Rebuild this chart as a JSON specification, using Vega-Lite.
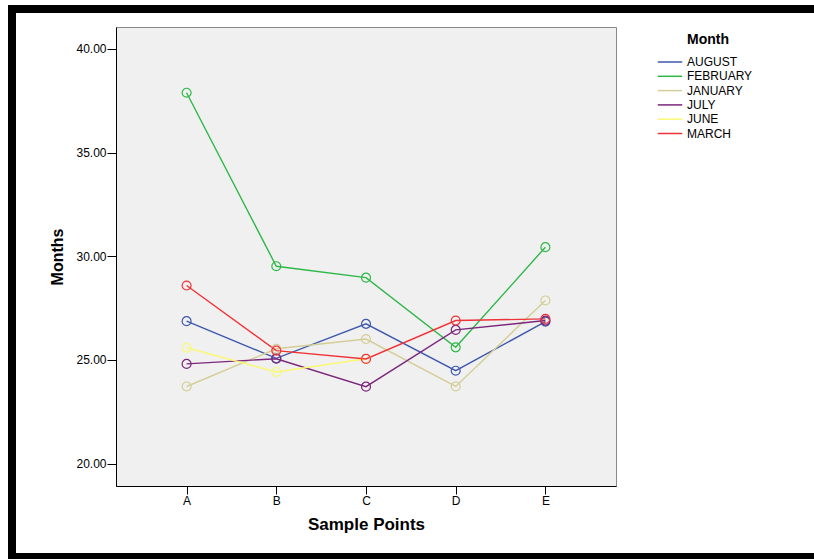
{
  "$schema": "https://vega.github.io/schema/vega-lite/v6.json",
  "background": "white",
  "autosize": {"type": "none"},
  "padding": {"left": 116, "top": 27, "right": 198, "bottom": 73},
  "width": 500,
  "height": 459,
  "config": {"font": "Liberation Sans"},
  "view": {"fill": "#f0f0f0", "stroke": "#888888", "strokeWidth": 1},
  "data": {
    "values": [
      {"Month": "AUGUST", "Sample": "A", "Value": 26.87},
      {"Month": "AUGUST", "Sample": "B", "Value": 25.08},
      {"Month": "AUGUST", "Sample": "C", "Value": 26.74},
      {"Month": "AUGUST", "Sample": "D", "Value": 24.48},
      {"Month": "AUGUST", "Sample": "E", "Value": 26.85},
      {"Month": "FEBRUARY", "Sample": "A", "Value": 37.89},
      {"Month": "FEBRUARY", "Sample": "B", "Value": 29.52},
      {"Month": "FEBRUARY", "Sample": "C", "Value": 28.97},
      {"Month": "FEBRUARY", "Sample": "D", "Value": 25.61},
      {"Month": "FEBRUARY", "Sample": "E", "Value": 30.44},
      {"Month": "JANUARY", "Sample": "A", "Value": 23.72},
      {"Month": "JANUARY", "Sample": "B", "Value": 25.54},
      {"Month": "JANUARY", "Sample": "C", "Value": 26.01},
      {"Month": "JANUARY", "Sample": "D", "Value": 23.72},
      {"Month": "JANUARY", "Sample": "E", "Value": 27.87},
      {"Month": "JULY", "Sample": "A", "Value": 24.81},
      {"Month": "JULY", "Sample": "B", "Value": 25.06},
      {"Month": "JULY", "Sample": "C", "Value": 23.71},
      {"Month": "JULY", "Sample": "D", "Value": 26.45},
      {"Month": "JULY", "Sample": "E", "Value": 26.9},
      {"Month": "JUNE", "Sample": "A", "Value": 25.59},
      {"Month": "JUNE", "Sample": "B", "Value": 24.42},
      {"Month": "JUNE", "Sample": "C", "Value": 25.06},
      {"Month": "MARCH", "Sample": "A", "Value": 28.59},
      {"Month": "MARCH", "Sample": "B", "Value": 25.45},
      {"Month": "MARCH", "Sample": "C", "Value": 25.05},
      {"Month": "MARCH", "Sample": "D", "Value": 26.9},
      {"Month": "MARCH", "Sample": "E", "Value": 26.98}
    ]
  },
  "encoding": {
    "x": {
      "field": "Sample",
      "type": "ordinal",
      "title": "Sample Points",
      "scale": {"type": "point", "padding": 0.787},
      "axis": {
        "labelAngle": 0,
        "grid": false,
        "domainColor": "black",
        "tickColor": "black",
        "tickSize": 8,
        "labelPadding": 1,
        "labelFont": "Liberation Sans",
        "labelFontSize": 12,
        "labelColor": "black",
        "titleFont": "Liberation Sans",
        "titleFontSize": 17,
        "titleFontWeight": "bold",
        "titleColor": "black",
        "titlePadding": 10
      }
    },
    "y": {
      "field": "Value",
      "type": "quantitative",
      "title": "Months",
      "scale": {"domain": [18.92, 41.06], "nice": false, "zero": false},
      "axis": {
        "values": [20, 25, 30, 35, 40],
        "format": ".2f",
        "grid": false,
        "domainColor": "black",
        "tickColor": "black",
        "tickSize": 9,
        "labelPadding": 1,
        "labelFont": "Liberation Sans",
        "labelFontSize": 12,
        "labelColor": "black",
        "titleFont": "Liberation Sans",
        "titleFontSize": 16,
        "titleFontWeight": "bold",
        "titleColor": "black",
        "titlePadding": 10
      }
    }
  },
  "layer": [
    {
      "mark": {"type": "line", "strokeWidth": 1.4},
      "encoding": {
        "color": {
          "field": "Month",
          "type": "nominal",
          "scale": {
            "domain": ["AUGUST", "FEBRUARY", "JANUARY", "JULY", "JUNE", "MARCH"],
            "range": ["#3E58AC", "#2EB848", "#D3CE97", "#7C277C", "#FBF873", "#EF3338"]
          },
          "legend": {
            "orient": "none",
            "legendX": 547,
            "legendY": 6,
            "padding": 0,
            "title": "Month",
            "titleFont": "Liberation Sans",
            "titleFontSize": 14,
            "titleFontWeight": "bold",
            "titleColor": "black",
            "titleAnchor": "middle",
            "titlePadding": 8,
            "labelFont": "Liberation Sans",
            "labelFontSize": 12,
            "labelColor": "black",
            "labelOffset": 10,
            "symbolType": "M-2,0H2",
            "symbolSize": 150,
            "symbolStrokeWidth": 1.5,
            "rowPadding": 1.3
          }
        }
      }
    },
    {
      "mark": {"type": "point", "filled": false, "size": 80, "strokeWidth": 1.2, "opacity": 1},
      "encoding": {
        "color": {"field": "Month", "type": "nominal"}
      }
    },
    {
      "mark": {"type": "point", "filled": false, "size": 1, "opacity": 0},
      "encoding": {
        "stroke": {
          "field": "Value",
          "type": "quantitative",
          "scale": {"range": ["rgba(0,0,0,0)", "rgba(0,0,0,0)"]},
          "legend": {
            "orient": "none",
            "direction": "vertical",
            "legendX": -104,
            "legendY": -18,
            "padding": 0,
            "title": null,
            "gradientLength": 548,
            "gradientThickness": 798,
            "gradientStrokeColor": "black",
            "gradientStrokeWidth": 8,
            "labelExpr": "''",
            "labelFontSize": 1,
            "zindex": 1
          }
        }
      }
    },
    {
      "mark": {"type": "point", "filled": true, "size": 1, "opacity": 0},
      "encoding": {
        "fill": {
          "field": "Value",
          "type": "quantitative",
          "scale": {"range": ["white", "white"]},
          "legend": {
            "orient": "none",
            "direction": "vertical",
            "legendX": 689,
            "legendY": -14,
            "padding": 0,
            "title": null,
            "gradientLength": 540,
            "gradientThickness": 10,
            "gradientStrokeWidth": 0,
            "labelExpr": "''",
            "labelFontSize": 1,
            "zindex": 2
          }
        }
      }
    }
  ]
}
